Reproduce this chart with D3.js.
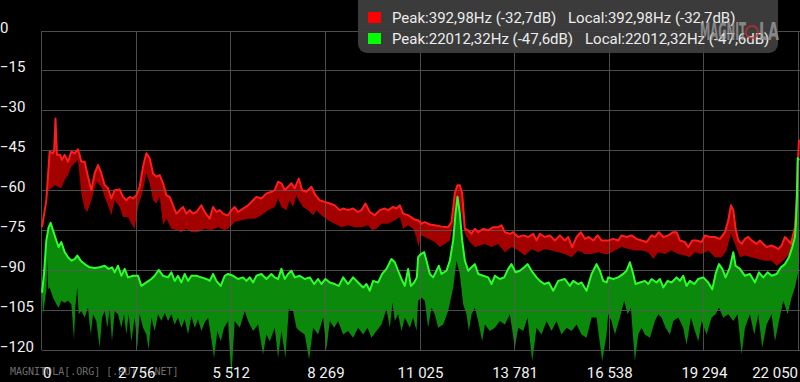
<!DOCTYPE html>
<html><head><meta charset="utf-8">
<script src="https://cdn.jsdelivr.net/npm/d3@7"></script>
<style>html,body{margin:0;padding:0;background:#000;overflow:hidden}</style>
</head><body><svg id="c" width="800" height="382"></svg>
<script>
const yTicks = [0,-15,-30,-45,-60,-75,-90,-105,-120];
const xTicks = [0,2756,5512,8269,11025,13781,16538,19294,22050];
const xTickLabels = ["0","2 756","5 512","8 269","11 025","13 781","16 538","19 294","22 050"];
const legendPeak = ["Peak:392,98Hz (-32,7dB)","Peak:22012,32Hz (-47,6dB)"];
const legendLocal = ["Local:392,98Hz (-32,7dB)","Local:22012,32Hz (-47,6dB)"];

const redTop = [[0,-73.6],[126,-63.5],[223,-45.2],[320,-45.8],[355,-44.8],[393,-32.7],[435,-46.4],[525,-46.4],[583,-48.3],[660,-46.4],[758,-49],[855,-45.2],[952,-45.8],[1049,-44.3],[1146,-49],[1243,-49],[1340,-54.6],[1437,-59.7],[1535,-53.4],[1632,-50.2],[1729,-53.4],[1826,-57.8],[1923,-59],[2020,-62.8],[2117,-59.7],[2263,-59.4],[2360,-62.2],[2457,-63.5],[2555,-62.2],[2652,-62.8],[2749,-61.6],[2846,-58.4],[2943,-50.8],[3040,-45.8],[3137,-47.7],[3234,-53.4],[3332,-54.6],[3429,-54],[3526,-57.1],[3623,-61.6],[3720,-62.2],[3817,-65.4],[3914,-68.5],[4011,-67.2],[4109,-66],[4206,-68.5],[4303,-67.2],[4400,-68.5],[4497,-67.9],[4643,-65.4],[4740,-67.9],[4885,-70.4],[4983,-66],[5080,-67.9],[5177,-67.2],[5274,-68.5],[5371,-69.1],
[5420,-69.1],[5517,-67.2],[5614,-66],[5711,-67.9],[5857,-66.6],[6003,-65.4],[6148,-63.5],[6246,-62.2],[6391,-62.8],[6537,-60.9],[6683,-60.3],[6780,-59.7],[6877,-56.5],[6974,-57.1],[7071,-59.7],[7168,-58.4],[7265,-57.1],[7363,-59],[7479,-55.3],[7576,-59.7],[7703,-60.3],[7848,-58.4],[7965,-61.6],[8091,-63.5],[8237,-64.1],[8382,-64.7],[8528,-65.4],[8674,-67.2],[8771,-66.6],[8917,-67.2],[9062,-66.6],[9208,-67.9],[9305,-67.2],[9422,-64.7],[9548,-67.9],[9694,-69.1],[9839,-67.2],[9985,-66.6],[10082,-67.2],[10228,-66],[10325,-66.6],[10422,-65.4],[10519,-68.5],[10665,-69.1],[10811,-70.4],[10908,-71],
[10957,-71],[11054,-72.3],[11151,-71.7],[11297,-72.6],[11443,-72.9],[11637,-73.4],[11831,-73.6],[11928,-71.7],[12025,-60.9],[12103,-57.8],[12171,-57.8],[12239,-60.9],[12317,-74.2],[12414,-74.8],[12511,-76.1],[12608,-74.2],[12705,-75.5],[12851,-74.2],[12997,-74.8],[13142,-73.6],[13288,-73.6],[13385,-72.9],[13482,-75.5],[13628,-76.1],[13725,-75.5],[13871,-77.3],[14017,-76.7],[14162,-77.3],[14308,-76.1],[14405,-78.6],[14502,-76.1],[14648,-77.3],[14794,-76.7],[14939,-78.6],[15085,-76.7],[15231,-78.6],[15328,-77.3],[15444,-81.1],[15571,-77.3],[15697,-75.5],[15814,-78],[15930,-77.3],[16056,-78.6],[16183,-76.7],[16299,-78.6],[16445,-78.6],
[16493,-78.6],[16639,-78],[16784,-78.6],[16882,-76.7],[17027,-77.3],[17173,-76.7],[17319,-78],[17464,-78.6],[17610,-79.2],[17756,-76.7],[17853,-77.3],[17969,-75.5],[18096,-77.3],[18241,-76.7],[18387,-75.5],[18484,-75.5],[18581,-78.6],[18727,-79.2],[18824,-81.1],[18941,-78.6],[19067,-78.6],[19213,-79.2],[19310,-76.7],[19455,-77.3],[19601,-77.3],[19747,-78],[19893,-75.5],[19990,-71],[20067,-65.4],[20136,-67.2],[20203,-74.2],[20281,-78.6],[20378,-79.9],[20475,-78],[20572,-77.3],[20670,-78.6],[20815,-79.9],[20912,-78.6],[21009,-79.9],[21107,-81.1],[21252,-80.5],[21350,-81.1],[21447,-81.8],[21544,-80.5],[21641,-77.3],[21738,-78.6],[21816,-79.9],[21884,-76.1],[21932,-73.6],[21981,-63.5],[22030,-45.8],[22050,-40.7]];

const redBottom = [[0,-73.6],[175,-59.7],[272,-59],[369,-57.8],[466,-58.4],[563,-59],[660,-55.9],[758,-54],[855,-50.8],[952,-49.6],[1049,-48.3],[1146,-60.9],[1243,-66.6],[1321,-67.9],[1437,-63.5],[1583,-56.5],[1729,-58.4],[1826,-62.2],[1942,-66],[2020,-69.1],[2117,-63.5],[2263,-66],[2360,-69.8],[2506,-69.8],[2603,-72.3],[2700,-74.2],[2797,-66],[2943,-59.7],[3040,-53.4],[3137,-57.1],[3234,-63.5],[3332,-64.7],[3429,-62.2],[3526,-72.9],[3623,-70.4],[3768,-74.2],[3914,-74.8],[4060,-75.5],[4206,-74.2],[4351,-75.5],[4545,-75.5],[4740,-74.2],[4934,-74.8],[5128,-73.6],[5322,-74.8],
[5420,-74.2],[5614,-71.7],[5809,-71],[6003,-70.4],[6197,-70.4],[6391,-69.1],[6586,-67.2],[6780,-66],[6877,-62.8],[6974,-66],[7120,-67.2],[7217,-63.5],[7314,-66],[7412,-61.6],[7479,-63.5],[7605,-66],[7751,-67.2],[7897,-69.1],[7994,-67.2],[8140,-69.1],[8334,-71],[8528,-72.3],[8722,-73.6],[8917,-72.9],[9111,-73.6],[9305,-73.6],[9499,-72.9],[9616,-74.8],[9742,-74.2],[9888,-72.3],[10082,-72.3],[10277,-71],[10422,-69.8],[10519,-74.2],[10665,-72.9],[10811,-74.2],[10908,-77.3],
[10957,-81.1],[11054,-76.7],[11248,-78],[11443,-79.2],[11588,-81.1],[11734,-79.9],[11880,-78.6],[11977,-72.3],[12103,-63.5],[12220,-68.5],[12317,-76.1],[12463,-79.2],[12608,-81.1],[12754,-80.5],[12900,-79.9],[13094,-81.1],[13288,-79.9],[13482,-83],[13677,-81.1],[13871,-82.4],[14065,-84.3],[14259,-81.8],[14454,-83],[14648,-81.8],[14842,-82.4],[15036,-83],[15231,-83.7],[15425,-84.9],[15619,-82.4],[15814,-83.7],[16008,-83.7],[16202,-83],[16396,-83.7],
[16493,-83.7],[16687,-82.4],[16882,-81.1],[17076,-81.8],[17270,-82.4],[17464,-82.4],[17659,-83],[17805,-85.6],[17950,-83],[18145,-83.7],[18338,-82.4],[18533,-83.7],[18727,-84.3],[18873,-84.9],[19018,-83],[19213,-83.7],[19407,-82.4],[19601,-84.9],[19795,-84.9],[19941,-82.4],[20067,-76.1],[20184,-79.9],[20330,-84.9],[20475,-84.3],[20670,-84.9],[20864,-85.6],[21058,-86.2],[21252,-86.2],[21398,-88.1],[21544,-86.8],[21690,-84.9],[21835,-83],[21932,-78.6],[21991,-69.8],[22030,-57.1],[22050,-50.8]];

const greenTop = [[0,-98.2],[58,-91.2],[126,-78.6],[194,-73.6],[252,-72],[320,-74.8],[418,-78.6],[485,-81.1],[563,-79.2],[660,-83],[758,-84.9],[855,-86.2],[952,-85.6],[1029,-84.3],[1126,-86.2],[1243,-87.5],[1389,-88.7],[1535,-89],[1680,-88.7],[1826,-88.1],[1942,-89.3],[2039,-88.7],[2117,-90.6],[2214,-88.1],[2311,-91.9],[2408,-89.3],[2506,-92.5],[2652,-91.9],[2797,-91.9],[2894,-95.7],[3040,-94.4],[3185,-93.1],[3283,-91.9],[3399,-89.7],[3526,-91.9],[3671,-92.5],[3768,-90.6],[3865,-93.8],[3962,-91.9],[4060,-94.4],[4157,-91.2],[4254,-93.8],[4351,-91.9],[4497,-91.9],[4643,-92.5],[4788,-93.1],[4885,-93.8],[4983,-91.2],[5080,-93.8],[5206,-95.7],[5322,-91.9],
[5420,-91.2],[5566,-91.9],[5711,-93.1],[5857,-92.5],[5954,-93.8],[6051,-92.5],[6148,-94.4],[6246,-91.9],[6391,-91.2],[6537,-93.1],[6683,-91.2],[6780,-92.5],[6877,-93.1],[6974,-89.3],[7071,-93.1],[7168,-91.2],[7265,-90],[7363,-92.5],[7508,-91.9],[7654,-93.1],[7800,-92.5],[7926,-95],[8043,-93.1],[8140,-95],[8256,-93.1],[8382,-94.4],[8528,-95],[8645,-95.7],[8771,-92.5],[8917,-95],[9062,-92.5],[9208,-94.4],[9354,-96.3],[9451,-95],[9548,-97.5],[9645,-93.8],[9791,-94.4],[9908,-91.2],[10034,-89.3],[10179,-85.6],[10277,-86.8],[10374,-90],[10471,-93.1],[10568,-95.7],[10665,-89.3],[10743,-95.7],[10840,-94.4],[10918,-92.5],
[10957,-84.9],[11035,-83.7],[11132,-83],[11200,-86.2],[11297,-91.2],[11394,-92.5],[11491,-90],[11559,-88.1],[11637,-91.2],[11783,-90],[11880,-86.2],[11977,-78.6],[12045,-68.5],[12103,-62.2],[12171,-68.5],[12239,-78.6],[12317,-86.2],[12414,-90],[12511,-88.7],[12608,-87.5],[12705,-91.2],[12851,-91.9],[12997,-92.5],[13094,-95],[13191,-91.9],[13337,-93.1],[13463,-92.5],[13580,-89.3],[13677,-87.5],[13793,-90.6],[13920,-90],[14046,-88.7],[14143,-87.5],[14259,-90],[14405,-92.5],[14502,-93.8],[14629,-95],[14764,-94.4],[14891,-97.5],[15036,-93.8],[15231,-93.1],[15376,-95.7],[15473,-93.8],[15619,-95],[15716,-94.4],[15862,-97.5],[16008,-91.2],[16153,-87.5],[16250,-90],[16348,-93.8],[16445,-94.4],
[16493,-92.5],[16639,-93.1],[16784,-92.5],[16930,-91.2],[17027,-90],[17124,-86.8],[17222,-91.2],[17289,-95],[17416,-94.4],[17561,-93.8],[17659,-95],[17756,-93.1],[17901,-94.4],[17998,-93.1],[18096,-96.3],[18222,-93.8],[18338,-94.4],[18484,-92.5],[18581,-93.8],[18678,-91.9],[18775,-95.7],[18873,-93.8],[18999,-95],[19116,-93.1],[19261,-92.5],[19407,-94.4],[19523,-97],[19621,-91.2],[19718,-87.5],[19815,-89.3],[19912,-92.5],[20038,-88.7],[20136,-83],[20203,-88.1],[20330,-89.3],[20475,-91.9],[20621,-91.2],[20767,-94.4],[20883,-90.6],[21009,-92.5],[21136,-90.6],[21252,-91.9],[21398,-91.2],[21524,-88.7],[21641,-87.5],[21757,-84.9],[21855,-81.1],[21932,-77.3],[21960,-72],[21991,-62],[22012,-47.6],[22050,-48.5]];

const greenBottom = [[0,-98.2],[29,-106.4],[97,-100],[130,-97],[155,-85.6],[180,-97],[223,-96.3],[320,-100.1],[418,-102.6],[485,-103.9],[563,-101.3],[660,-102],[758,-101.3],[855,-102.6],[932,-115.8],[971,-103.9],[1029,-96.3],[1068,-106.4],[1146,-105.1],[1243,-107.6],[1340,-103.9],[1418,-114],[1486,-106.4],[1583,-108.9],[1680,-118.9],[1748,-107.6],[1826,-105.1],[1903,-111.4],[1971,-104.5],[2039,-116.5],[2117,-105.1],[2214,-106.4],[2311,-111.4],[2389,-106.4],[2457,-114],[2525,-106.4],[2603,-116.5],[2700,-107.6],[2777,-119],[2846,-106.4],[2943,-111.4],[3040,-114],[3108,-119.6],[3185,-107.6],[3283,-112.7],[3380,-106.4],[3477,-108.9],[3574,-105.8],[3671,-108.9],[3768,-106.4],[3865,-110.2],[3962,-107.6],[4060,-111.4],[4157,-108.2],[4254,-113.9],[4351,-107],[4448,-111.4],[4545,-108.2],[4643,-112.7],[4740,-109.5],[4837,-107.6],[4914,-114],[5011,-122.8],[5109,-112.7],[5206,-116.5],[5303,-111.4],
[5420,-108.9],[5517,-130],[5614,-108.9],[5760,-111.4],[5906,-105.1],[6003,-108.9],[6148,-112.7],[6294,-110.2],[6440,-121.5],[6537,-114],[6634,-116.5],[6780,-111.4],[6877,-122.8],[6974,-112.7],[7091,-122.8],[7188,-104.5],[7314,-105.1],[7412,-111.4],[7508,-112.7],[7654,-114],[7780,-123.4],[7897,-111.4],[8043,-114],[8188,-107.6],[8285,-119.6],[8382,-108.9],[8509,-111.4],[8625,-108.9],[8771,-114],[8917,-112.7],[9062,-115.2],[9208,-111.4],[9354,-114],[9480,-111.4],[9597,-115.2],[9742,-112.7],[9888,-110.2],[10034,-104.5],[10131,-111.4],[10209,-102],[10277,-108.9],[10374,-106.4],[10471,-112.7],[10568,-107.6],[10714,-111.4],[10811,-107.6],[10908,-112.7],
[10957,-101.3],[11054,-100.1],[11151,-101.3],[11248,-111.4],[11345,-103.9],[11443,-106.4],[11540,-111.4],[11685,-110.2],[11831,-105.1],[11977,-96.3],[12074,-86.2],[12171,-91.2],[12268,-102.6],[12365,-106.4],[12433,-112.7],[12511,-106.4],[12608,-103.9],[12705,-108.9],[12822,-116.5],[12900,-110.2],[13045,-112.7],[13191,-111.4],[13337,-108.9],[13482,-110.2],[13628,-106.4],[13774,-119],[13871,-111.4],[14017,-112.7],[14143,-107.6],[14279,-124],[14405,-111.4],[14551,-114],[14696,-108.9],[14842,-112.7],[14988,-108.9],[15133,-114],[15279,-111.4],[15425,-112.7],[15571,-110.2],[15716,-114],[15862,-115.2],[16008,-107.6],[16153,-107.6],[16319,-124],[16445,-114],
[16493,-106.4],[16590,-108.9],[16687,-114],[16833,-107.6],[16959,-101.3],[17056,-106.4],[17153,-103.9],[17270,-124],[17367,-114],[17464,-111.4],[17561,-114],[17707,-115.2],[17853,-108.9],[17950,-106.4],[18047,-107.6],[18164,-111.4],[18290,-114],[18387,-108.9],[18533,-107.6],[18678,-111.4],[18775,-117.8],[18902,-107.6],[19018,-112.7],[19116,-116.5],[19213,-108.9],[19358,-114],[19504,-107.6],[19621,-106.4],[19718,-103.9],[19844,-107.6],[19990,-106.4],[20136,-108.9],[20262,-106.4],[20378,-121.5],[20475,-111.4],[20621,-106.4],[20747,-114],[20864,-106.4],[20980,-119],[21107,-110.2],[21252,-106.4],[21350,-116.5],[21466,-108.9],[21592,-101.3],[21719,-106.4],[21835,-100.1],[21932,-96.3],[21991,-92.5],[22050,-90]];

const svg = d3.select("#c");
const x = d3.scaleLinear().domain([0,22050]).range([42,799]);
const y = d3.scaleLinear().domain([0,-120]).range([31.5,350.5]);

svg.append("rect").attr("width",800).attr("height",382).attr("fill","#000");

const line = d3.line().x(d=>x(d[0])).y(d=>y(d[1]));
function band(top,bottom){ return line(top.concat(bottom.slice().reverse())) + "Z"; }

svg.append("path").attr("d",band(redTop,redBottom)).attr("fill","#a30000");
svg.append("path").attr("d",band(greenTop,greenBottom)).attr("fill","#0a890a");

// grid
const g = svg.append("g").attr("stroke","#5a5a5a").attr("stroke-width",1).attr("opacity",0.85);
g.selectAll("line.h").data(yTicks).join("line").attr("class","h")
  .attr("x1",x(0)).attr("x2",800).attr("y1",d=>Math.round(y(d))-0.5).attr("y2",d=>Math.round(y(d))-0.5);
g.selectAll("line.v").data(xTicks).join("line").attr("class","v")
  .attr("x1",d=>Math.round(x(d))-0.5).attr("x2",d=>Math.round(x(d))-0.5).attr("y1",y(0)-0.5).attr("y2",y(-120)-0.5);

svg.append("path").attr("d",line(redTop)).attr("fill","none").attr("stroke","#ff1c1c").attr("stroke-width",2).attr("stroke-linejoin","round");
svg.append("path").attr("d",line(greenTop)).attr("fill","none").attr("stroke","#2cff2c").attr("stroke-width",2).attr("stroke-linejoin","round");

// watermark bottom-left
svg.append("text").attr("x",10).attr("y",375).attr("font-family","DejaVu Sans Mono").attr("font-size",10)
  .attr("fill","#8a8a8a").attr("opacity",0.8).text("MAGNITOLA[.ORG] [.RU] [.NET]");

// axis labels
svg.selectAll("text.yl").data(yTicks).join("text").attr("class","yl")
  .attr("x",0).attr("y",d=>y(d)+1).attr("fill","#f2f2f2").attr("font-family","Roboto").attr("font-size",15)
  .text(d=>d3.format("d")(d));
svg.selectAll("text.xl").data(xTicks).join("text").attr("class","xl")
  .attr("x",(d,i)=> i===0 ? x(d)+1 : i===xTicks.length-1 ? x(d)-1 : x(d))
  .attr("y",378)
  .attr("text-anchor",(d,i)=> i===0 ? "start" : i===xTicks.length-1 ? "end" : "middle")
  .attr("fill","#f2f2f2").attr("font-family","Roboto").attr("font-size",15)
  .text((d,i)=>xTickLabels[i]);

// legend
const lg = svg.append("g");
lg.append("rect").attr("x",358).attr("y",-8).attr("width",420).attr("height",61).attr("rx",9)
  .attr("fill","#404040").attr("opacity",0.93);
const legendColors = ["#ff0000","#00ff00"];
legendColors.forEach((c,i)=>{
  lg.append("rect").attr("x",368).attr("y",12+i*21).attr("width",13).attr("height",11).attr("fill",c);
  lg.append("text").attr("x",392).attr("y",23+i*21).attr("fill","#ececec").attr("font-family","Roboto").attr("font-size",15).text(legendPeak[i]);
  lg.append("text").attr("x",i===0?568:585).attr("y",23+i*21).attr("fill","#ececec").attr("font-family","Roboto").attr("font-size",15).text(legendLocal[i]);
});

// watermark top-right logo
const wm = svg.append("g").attr("opacity",0.75);
wm.append("text").attr("x",700).attr("y",40).attr("font-family","DejaVu Sans Condensed").attr("font-weight","bold")
  .attr("font-size",24).attr("textLength",46).attr("lengthAdjust","spacingAndGlyphs").attr("fill","#a0a0a0").text("MAGNIT");
wm.append("circle").attr("cx",752).attr("cy",32).attr("r",6).attr("fill","none").attr("stroke","#c03030").attr("stroke-width",2);
wm.append("text").attr("x",759).attr("y",40).attr("font-family","DejaVu Sans Condensed").attr("font-weight","bold")
  .attr("font-size",24).attr("textLength",20).attr("lengthAdjust","spacingAndGlyphs").attr("fill","#a0a0a0").text("LA");
</script></body></html>
